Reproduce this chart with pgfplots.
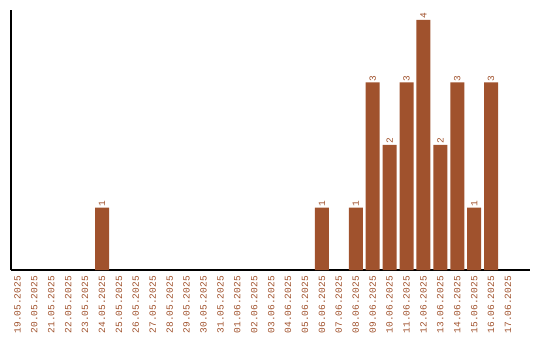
\documentclass[border=0pt]{standalone}
\usepackage{fontspec}
\setmainfont{Liberation Mono}
\setmonofont{Liberation Mono}
\usepackage{pgfplots}
\pgfplotsset{compat=1.18}
\definecolor{barc}{HTML}{A0522D}
\begin{document}
\begin{tikzpicture}
\useasboundingbox (0,0) rectangle (540pt,340pt);
\begin{axis}[
  at={(11pt,70pt)}, anchor=south west,
  scale only axis, width=519pt, height=260pt,
  xmin=-0.38, xmax=30.3, ymin=0, ymax=4.16,
  axis x line=bottom, axis y line=left,
  axis line style={-, black, line width=1.2pt},
  ytick=\empty,
  xtick={0,...,29},
  xticklabels={19.05.2025,20.05.2025,21.05.2025,22.05.2025,23.05.2025,24.05.2025,25.05.2025,26.05.2025,27.05.2025,28.05.2025,29.05.2025,30.05.2025,31.05.2025,01.06.2025,02.06.2025,03.06.2025,04.06.2025,05.06.2025,06.06.2025,07.06.2025,08.06.2025,09.06.2025,10.06.2025,11.06.2025,12.06.2025,13.06.2025,14.06.2025,15.06.2025,16.06.2025,17.06.2025},
  major tick length=0pt,
  xticklabel style={rotate=90, anchor=east, font=\fontsize{9.5}{10}\selectfont, text=barc, inner sep=0pt, xshift=-6pt},
  /pgf/number format/assume math mode=true,
  nodes near coords,
  every node near coord/.append style={rotate=90, anchor=west, font=\fontsize{9.5}{10}\selectfont, text=barc, inner sep=1pt},
]
\addplot[ybar, bar width=14pt, fill=barc, draw=none] coordinates {
(5,1) (18,1) (20,1) (21,3) (22,2) (23,3) (24,4) (25,2) (26,3) (27,1) (28,3)
};
\end{axis}
\end{tikzpicture}
\end{document}
